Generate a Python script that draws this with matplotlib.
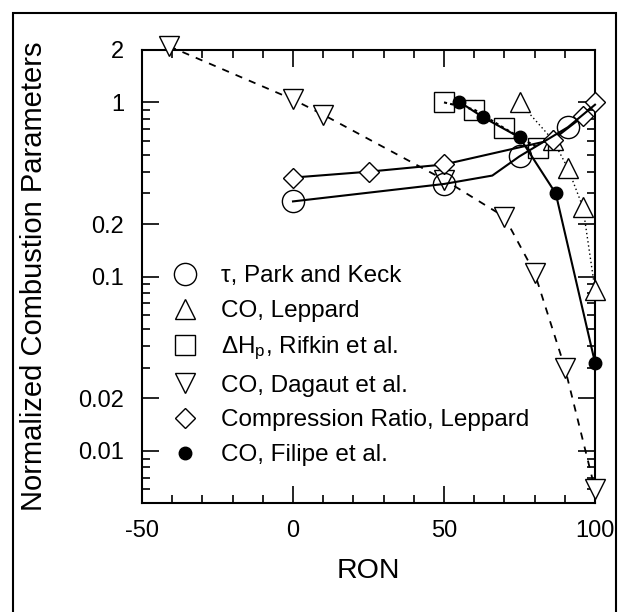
import matplotlib
matplotlib.use('Agg')
import matplotlib.pyplot as plt
from matplotlib.lines import Line2D
from matplotlib.patches import Rectangle
from matplotlib.ticker import FixedLocator, NullFormatter, MultipleLocator

plt.rcParams['font.family'] = ['Liberation Sans', 'DejaVu Sans']
plt.rcParams['mathtext.fontset'] = 'custom'
plt.rcParams['mathtext.rm'] = 'Liberation Sans'
plt.rcParams['mathtext.it'] = 'Liberation Sans'
plt.rcParams['axes.unicode_minus'] = False

# tau, Park and Keck (line has a kink near 66 without marker)
park_x = [0, 50, 66, 75, 91, 100]
park_y = [0.27, 0.34, 0.38, 0.49, 0.72, 0.97]
park_marks = [0, 1, 3, 4]

# CO, Leppard
lep_x = [75, 86, 91, 96, 100]
lep_y = [1.0, 0.61, 0.42, 0.25, 0.084]

# Delta Hp, Rifkin et al.
rif_x = [50, 60, 70, 81]
rif_y = [1.0, 0.91, 0.71, 0.55]

# CO, Dagaut et al.
dag_x = [-41, 0, 10, 50, 70, 80, 90, 100]
dag_y = [2.1, 1.04, 0.85, 0.36, 0.22, 0.105, 0.030, 0.006]

# Compression ratio, Leppard
cr_x = [0, 25, 50, 86, 96, 100]
cr_y = [0.37, 0.40, 0.44, 0.61, 0.83, 1.0]

# CO, Filipe et al.
fil_x = [55, 63, 75, 87, 100]
fil_y = [1.01, 0.82, 0.63, 0.30, 0.032]

labels = [u'\u03c4, Park and Keck', 'CO, Leppard', r'$\Delta$H$_\mathrm{p}$, Rifkin et al.',
          'CO, Dagaut et al.', 'Compression Ratio, Leppard', 'CO, Filipe et al.']

fig = plt.figure(figsize=(6.2, 6.12), dpi=100)
ax = fig.add_axes([142/620, 1-503/612, (595-142)/620, (503-50)/612])

ax.plot(dag_x, dag_y, color='black', ls=(0, (4, 4)), lw=1.3, marker='v', ms=15,
        mfc='white', mec='black', mew=1.0, zorder=3, clip_on=False)
ax.plot(lep_x, lep_y, color='black', ls=(0, (1, 2)), lw=1.0, marker='^', ms=14,
        mfc='white', mec='black', mew=1.0, zorder=3, clip_on=False)
ax.plot(rif_x, rif_y, color='black', ls=(0, (1.5, 1.5)), lw=1.5, marker='s', ms=15,
        mfc='none', mec='black', mew=1.0, zorder=3, clip_on=False)
ax.plot(cr_x, cr_y, color='black', ls='-', lw=1.5, marker='D', ms=10,
        mfc='white', mec='black', mew=1.0, zorder=3, clip_on=False)
ax.plot(park_x, park_y, color='black', ls='-', lw=1.5, marker='o', ms=16,
        mfc='none', mec='black', mew=1.0, markevery=park_marks, zorder=3, clip_on=False)
ax.plot(fil_x, fil_y, color='black', ls='-', lw=1.5, marker='o', ms=9,
        mfc='black', mec='black', zorder=4, clip_on=False)

ax.set_yscale('log')
ax.set_xlim(-50, 100)
ax.set_ylim(0.005, 2)
ax.xaxis.set_major_locator(MultipleLocator(50))
ax.xaxis.set_minor_locator(MultipleLocator(10))
ax.yaxis.set_major_locator(FixedLocator([0.01, 0.02, 0.1, 0.2, 1, 2]))
ax.set_yticklabels(['0.01', '0.02', '0.1', '0.2', '1', '2'])
minor = [k * 10.0**e for e in (-3, -2, -1) for k in range(1, 10)]
ax.yaxis.set_minor_locator(FixedLocator(minor))
ax.yaxis.set_minor_formatter(NullFormatter())
ax.tick_params(which='both', direction='in', top=True, right=True, width=1.2, labelsize=17)
ax.tick_params(axis='x', which='major', length=12, pad=12)
ax.tick_params(axis='y', which='major', length=12, pad=13)
ax.tick_params(which='minor', length=6)
for s in ax.spines.values():
    s.set_linewidth(1.5)

ax.set_xlabel('RON', fontsize=20.5, labelpad=12)
ax.set_ylabel('Normalized Combustion Parameters', fontsize=21, labelpad=22)

handles = [
    Line2D([], [], ls='none', marker='o', ms=16, mfc='none', mec='black'),
    Line2D([], [], ls='none', marker='^', ms=14, mfc='none', mec='black'),
    Line2D([], [], ls='none', marker='s', ms=15, mfc='none', mec='black'),
    Line2D([], [], ls='none', marker='v', ms=15, mfc='none', mec='black'),
    Line2D([], [], ls='none', marker='D', ms=10, mfc='none', mec='black'),
    Line2D([], [], ls='none', marker='o', ms=9, mfc='black', mec='black'),
]
ax.legend(handles, labels, loc='center left', bbox_to_anchor=(0.019, 0.303), frameon=False,
          fontsize=17.5, handlelength=1.0, handletextpad=1.0, labelspacing=0.52)

fig.add_artist(Rectangle((13/620, -0.01), (616-13)/620, 1.01-13/612, transform=fig.transFigure,
                         fill=False, lw=1.5, ec='black'))

fig.savefig('out.png', dpi=100)
